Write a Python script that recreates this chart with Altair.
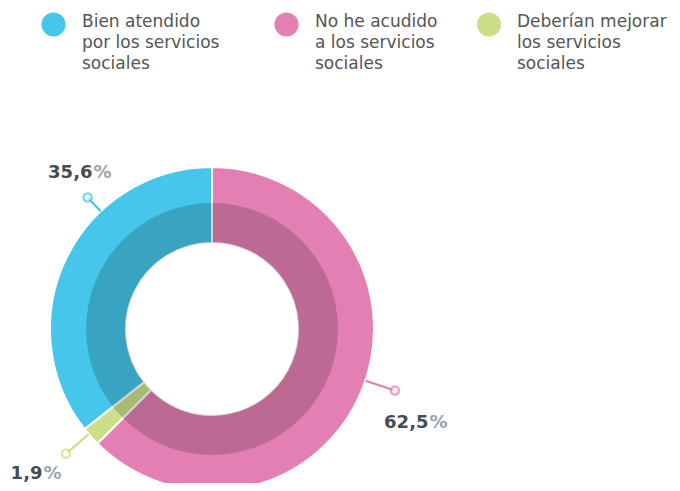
import math
import altair as alt
import pandas as pd

# ---- data ----
categories = ["Bien atendido", "No he acudido", "Deberían mejorar"]
legend_lines = [
    "Bien atendido\npor los servicios\nsociales",
    "No he acudido\na los servicios\nsociales",
    "Deberían mejorar\nlos servicios\nsociales",
]
values = [35.6, 62.5, 1.9]
value_labels = ["35,6", "62,5", "1,9"]
draw_order = [3, 1, 2]  # pink starts at 12 o'clock, then green, then blue
colors = ["#45C6EA", "#E37FB3", "#CBDF87"]

# ---- layout (chart pixel coords) ----
W, H = 664, 475
CX, CY = 204, 321
R_OUT, R_MID, R_IN = 162, 126, 86
leader_angle = [316.6, 108.6, 229.5]
leader_end = [181, 193, 192]
label_pos = [(84.5, 170), (420.5, 420), (34.5, 471)]
legend_circle = [(45.5, 16.5), (278.5, 16.5), (481, 16.5)]
legend_text_x = [74, 307, 509]
legend_text_y = 19

pie = pd.DataFrame({"cat": categories, "val": values, "ord": draw_order})

rows = []
for i, c in enumerate(categories):
    a = math.radians(leader_angle[i])
    rows.append({
        "cat": c,
        "x1": CX + R_OUT * math.sin(a), "y1": CY - R_OUT * math.cos(a),
        "x2": CX + leader_end[i] * math.sin(a), "y2": CY - leader_end[i] * math.cos(a),
        "lx": label_pos[i][0], "ly": label_pos[i][1],
        "num": value_labels[i], "pct": "%",
        "cx": legend_circle[i][0], "cy": legend_circle[i][1],
        "tx": legend_text_x[i], "ty": legend_text_y,
        "leg": legend_lines[i],
    })
ann = pd.DataFrame(rows)

cscale = alt.Scale(domain=categories, range=colors)
xs = alt.Scale(domain=[0, W], range=[0, W], nice=False, zero=False)
ys = alt.Scale(domain=[0, H], range=[0, H], nice=False, zero=False)

arcs = alt.Chart(pie).mark_arc(
    innerRadius=R_IN, outerRadius=R_OUT, stroke="white", strokeWidth=2
).encode(
    theta=alt.Theta("val:Q", stack=True),
    order=alt.Order("ord:Q"),
    color=alt.Color("cat:N", scale=cscale, legend=None),
    x=alt.value(CX), y=alt.value(CY),
)

overlay = alt.Chart(pd.DataFrame({"a": [0]})).mark_arc(
    innerRadius=R_IN, outerRadius=R_MID, theta=0, theta2=2 * math.pi,
    color="black", opacity=0.17,
).encode(x=alt.value(CX), y=alt.value(CY))

base = alt.Chart(ann)

leaders = base.mark_rule(strokeWidth=2.2).encode(
    x=alt.X("x1:Q", scale=xs, axis=None), y=alt.Y("y1:Q", scale=ys, axis=None),
    x2="x2:Q", y2="y2:Q",
    color=alt.Color("cat:N", scale=cscale, legend=None),
)

ends = base.mark_point(shape="circle", filled=True, fill="white", size=68, strokeWidth=2.4).encode(
    x=alt.X("x2:Q", scale=xs, axis=None), y=alt.Y("y2:Q", scale=ys, axis=None),
    stroke=alt.Stroke("cat:N", scale=cscale, legend=None),
)

nums = base.mark_text(align="right", baseline="alphabetic", font="DejaVu Sans",
                      fontSize=18, fontWeight="bold", color="#474C52").encode(
    x=alt.X("lx:Q", scale=xs, axis=None), y=alt.Y("ly:Q", scale=ys, axis=None),
    text="num:N",
)
pcts = base.mark_text(align="left", baseline="alphabetic", font="DejaVu Sans",
                      fontSize=18, fontWeight="bold", color="#9CA5AC", dx=1).encode(
    x=alt.X("lx:Q", scale=xs, axis=None), y=alt.Y("ly:Q", scale=ys, axis=None),
    text="pct:N",
)

leg_dots = base.mark_point(shape="circle", filled=True, size=580, opacity=1).encode(
    x=alt.X("cx:Q", scale=xs, axis=None), y=alt.Y("cy:Q", scale=ys, axis=None),
    color=alt.Color("cat:N", scale=cscale, legend=None),
)
leg_text = base.mark_text(align="left", baseline="alphabetic", font="DejaVu Sans",
                          fontSize=17, color="#555555", lineBreak="\n", lineHeight=21).encode(
    x=alt.X("tx:Q", scale=xs, axis=None), y=alt.Y("ty:Q", scale=ys, axis=None),
    text="leg:N",
)

chart = alt.layer(arcs, overlay, leaders, ends, nums, pcts, leg_dots, leg_text).properties(
    width=W, height=H, padding=0, autosize="none"
).configure_view(stroke=None)

chart.save("out.html", embed_options={"renderer": "svg", "actions": False})
